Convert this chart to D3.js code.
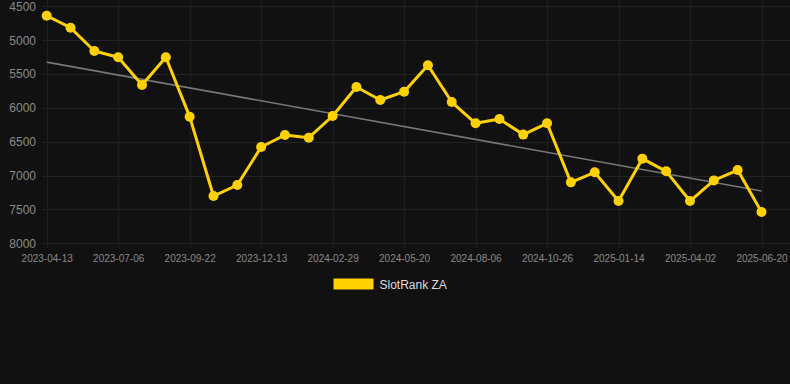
<!DOCTYPE html>
<html>
<head>
<meta charset="utf-8">
<script src="https://cdn.jsdelivr.net/npm/d3@7"></script>
<style>
html,body{margin:0;padding:0;background:#111111;}
svg{display:block;}
text{font-family:"Liberation Sans", Arial, sans-serif;}
</style>
</head>
<body>
<svg id="chart" width="790" height="384"></svg>
<script>
const seriesName = "SlotRank ZA";
const tickLabels = ["2023-04-13","2023-07-06","2023-09-22","2023-12-13","2024-02-29","2024-05-20","2024-08-06","2024-10-26","2025-01-14","2025-04-02","2025-06-20"];
const values = [4640,4816,5160,5253,5662,5253,6130,7302,7139,6578,6401,6441,6120,5692,5884,5761,5371,5914,6228,6165,6395,6228,7100,6952,7376,6750,6937,7376,7071,6918,7538];
const yTicks = [4500,5000,5500,6000,6500,7000,7500,8000];

const svg = d3.select("#chart");
const W = 790;
const idx = values.map((d,i)=>i);
const x = d3.scalePoint().domain(idx).range([46.7, 761.5]);
const y = d3.scaleLinear().domain([4500, 8000]).range([6.3, 243.3]);

// horizontal grid
svg.append("g").selectAll("line").data(yTicks).join("line")
  .attr("x1", 43).attr("x2", W)
  .attr("y1", d=>Math.round(y(d))+0.5).attr("y2", d=>Math.round(y(d))+0.5)
  .attr("stroke", "#222222").attr("stroke-width", 1);

// vertical grid at labelled ticks (every 3rd point)
const tickIdx = tickLabels.map((t,i)=>i*3);
svg.append("g").selectAll("line").data(tickIdx).join("line")
  .attr("x1", d=>Math.round(x(d))+0.5).attr("x2", d=>Math.round(x(d))+0.5)
  .attr("y1", 0).attr("y2", 248)
  .attr("stroke", "#1e1e1e").attr("stroke-width", 1);

// y axis labels
const yAxis = d3.axisLeft(y).tickValues(yTicks).tickSize(0).tickPadding(0).tickFormat(d3.format("d"));
const gy = svg.append("g").attr("transform", "translate(36,0)").call(yAxis);
gy.select(".domain").remove();
gy.selectAll("text").attr("fill", "#8a8a8a").style("font-size", "12px")
  .style("font-family", "'Liberation Sans', Arial, sans-serif");

// x axis labels
const xAxis = d3.axisBottom(x).tickValues(tickIdx).tickSize(0).tickPadding(0)
  .tickFormat((d)=>tickLabels[d/3]);
const gx = svg.append("g").attr("transform", "translate(0,255)").call(xAxis);
gx.select(".domain").remove();
gx.selectAll("text").attr("fill", "#8a8a8a").style("font-size", "10px")
  .style("font-family", "'Liberation Sans', Arial, sans-serif");

// regression trend line
const n = values.length;
const mx = d3.mean(idx), my = d3.mean(values);
const slope = d3.sum(idx, i => (i-mx)*(values[i]-my)) / d3.sum(idx, i => (i-mx)*(i-mx));
const icpt = my - slope*mx;
svg.append("line")
  .attr("x1", x(0)).attr("y1", y(icpt))
  .attr("x2", x(n-1)).attr("y2", y(icpt + slope*(n-1)))
  .attr("stroke", "#777777").attr("stroke-width", 1.6);

// series line
const line = d3.line().x((d,i)=>x(i)).y(d=>y(d));
svg.append("path").datum(values)
  .attr("d", line).attr("fill", "none")
  .attr("stroke", "#FFD100").attr("stroke-width", 3).attr("stroke-linejoin", "round");

svg.append("g").selectAll("circle").data(values).join("circle")
  .attr("cx", (d,i)=>x(i)).attr("cy", d=>y(d)).attr("r", 5)
  .attr("fill", "#FFD100");

// legend
const lg = svg.append("g");
lg.append("rect").attr("x", 333.5).attr("y", 278.5).attr("width", 40).attr("height", 11).attr("fill", "#FFD100");
lg.append("text").attr("x", 379.5).attr("y", 288.5).attr("fill", "#dddddd")
  .style("font-size", "12px").text(seriesName);
</script>
</body>
</html>
